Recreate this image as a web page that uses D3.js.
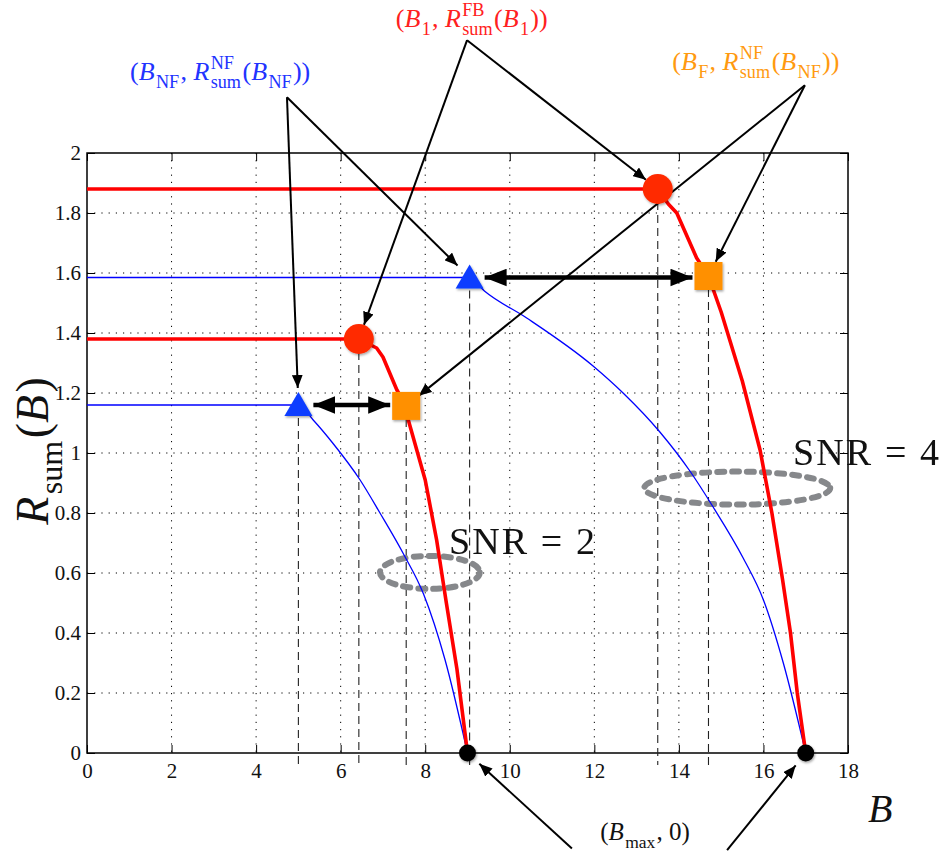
<!DOCTYPE html>
<html>
<head>
    <meta charset="utf-8">
    <script src="https://cdn.jsdelivr.net/npm/d3@7"></script>
    <style>
        body { margin: 0; background: #fff; }
        svg { display: block; }
        svg text { white-space: pre; }
    </style>
</head>
<body>
<svg id="chart" width="943" height="855"></svg>
<script>
    // ---- data ----
    var xTicks = [0, 2, 4, 6, 8, 10, 12, 14, 16, 18];
    var yTicks = [0, 0.2, 0.4, 0.6, 0.8, 1, 1.2, 1.4, 1.6, 1.8, 2];
    var yTickLabels = ["0", "0.2", "0.4", "0.6", "0.8", "1", "1.2", "1.4", "1.6", "1.8", "2"];

    // red: feedback sum-rate, blue: no-feedback sum-rate
    var redSnr2 = [[0, 1.38], [6.43, 1.38], [6.85, 1.35], [7.0, 1.32], [7.33, 1.21], [7.55, 1.157],
        [7.6, 1.11], [8.0, 0.91], [8.27, 0.71], [8.5, 0.5], [8.75, 0.28], [9.0, 0]];
    var blueSnr2 = [[0, 1.16], [5.0, 1.16], [5.35, 1.11], [5.83, 1.03], [6.46, 0.91], [6.93, 0.80],
        [7.48, 0.665], [7.96, 0.53], [8.47, 0.31], [9.0, 0]];
    var redSnr4 = [[0, 1.88], [13.5, 1.88], [13.75, 1.83], [13.95, 1.80], [14.42, 1.65], [14.7, 1.59],
        [15.0, 1.47], [15.5, 1.24], [15.92, 1.01], [16.2, 0.8], [16.45, 0.58], [16.64, 0.4], [16.8, 0.2], [17, 0]];
    var blueSnr4 = [[0, 1.585], [9.05, 1.585], [9.4, 1.54], [10.4, 1.45], [11.97, 1.29], [12.68, 1.2],
        [13.55, 1.07], [14.26, 0.94], [14.81, 0.82], [15.52, 0.65], [16.0, 0.51], [16.47, 0.3], [17, 0]];

    var circlePts = [[6.43, 1.38], [13.5, 1.88]];      // (B1, R_FB)
    var squarePts = [[7.55, 1.157], [14.7, 1.59]];     // (B_F, R_NF)
    var trianglePts = [[5.0, 1.16], [9.05, 1.585]];    // (B_NF, R_NF)
    var bmaxPts = [[9, 0], [17, 0]];

    // SNR groups: ellipse centre, radii (data units), label anchor
    var snrNames = ["SNR = 2", "SNR = 4"];
    var snrEllipse = [[8.11, 0.602, 1.18, 0.055], [15.38, 0.883, 2.2, 0.055]];
    var snrLabelPos = [[8.56, 0.665], [16.7, 0.959]];

    // annotation arrows: apex (data units) -> marker
    var blueApex = [4.73, 2.186], redApex = [8.99, 2.376], orangeApex = [16.98, 2.226];
    var bottomApex = [[11.47, -0.318], [15.14, -0.324]];

    var margin = {top: 153, right: 95, bottom: 102, left: 87},
        width = 943 - margin.left - margin.right,
        height = 855 - margin.top - margin.bottom;

    var serif = "Liberation Serif";

    var svg = d3.select("#chart");
    var defs = svg.append("defs");

    var shadow = defs.append("filter").attr("id", "shadow")
        .attr("x", "-50%").attr("y", "-50%").attr("width", "200%").attr("height", "200%");
    shadow.append("feDropShadow").attr("dx", 1).attr("dy", 1.5)
        .attr("stdDeviation", 1.3).attr("flood-color", "#000").attr("flood-opacity", 0.35);

    defs.append("marker").attr("id", "headThin")
        .attr("viewBox", "0 0 12 10").attr("refX", 12).attr("refY", 5)
        .attr("markerWidth", 13).attr("markerHeight", 11)
        .attr("markerUnits", "userSpaceOnUse").attr("orient", "auto-start-reverse")
        .append("path").attr("d", "M0,0 L12,5 L0,10 Z").attr("fill", "#000");
    defs.append("marker").attr("id", "headThick")
        .attr("viewBox", "0 0 20 16").attr("refX", 20).attr("refY", 8)
        .attr("markerWidth", 22).attr("markerHeight", 18)
        .attr("markerUnits", "userSpaceOnUse").attr("orient", "auto-start-reverse")
        .append("path").attr("d", "M0,0 L20,8 L0,16 Z").attr("fill", "#000");

    var x = d3.scaleLinear().domain([0, 18]).range([0, width]);
    var y = d3.scaleLinear().domain([0, 2]).range([height, 0]);

    var g = svg.append("g").attr("transform", "translate(" + margin.left + "," + margin.top + ")");

    // grid
    g.append("g").selectAll("line").data(xTicks.slice(1, -1)).enter().append("line")
        .attr("x1", d => x(d)).attr("x2", d => x(d)).attr("y1", 0).attr("y2", height)
        .attr("stroke", "#000").attr("stroke-width", 1).attr("stroke-dasharray", "1.2,6");
    g.append("g").selectAll("line").data(yTicks.slice(1, -1)).enter().append("line")
        .attr("y1", d => y(d)).attr("y2", d => y(d)).attr("x1", 0).attr("x2", width)
        .attr("stroke", "#000").attr("stroke-width", 1).attr("stroke-dasharray", "1.2,6");

    // axes (inside ticks all round)
    var xAxis = g.append("g").attr("transform", "translate(0," + height + ")")
        .call(d3.axisBottom(x).tickValues(xTicks).tickSizeInner(-8).tickSizeOuter(0).tickPadding(12));
    var xTop = g.append("g")
        .call(d3.axisTop(x).tickValues(xTicks).tickSizeInner(-8).tickSizeOuter(0).tickFormat(""));
    var yAxis = g.append("g")
        .call(d3.axisLeft(y).tickValues(yTicks).tickSizeInner(-8).tickSizeOuter(0).tickPadding(6)
            .tickFormat((d, i) => yTickLabels[i]));
    var yRight = g.append("g").attr("transform", "translate(" + width + ",0)")
        .call(d3.axisRight(y).tickValues(yTicks).tickSizeInner(-8).tickSizeOuter(0).tickFormat(""));
    [xAxis, xTop, yAxis, yRight].forEach(function (a) {
        a.attr("font-family", serif).attr("font-size", 21);
        a.select(".domain").remove();
        a.selectAll("line").attr("stroke", "#000");
        a.selectAll("text").attr("fill", "#111");
    });
    xAxis.selectAll("text").attr("dy", "0.6em");
    g.append("rect").attr("x", 0).attr("y", 0).attr("width", width).attr("height", height)
        .attr("fill", "none").attr("stroke", "#000").attr("stroke-width", 1.5);

    // dashed guides from markers down past the axis
    var guides = trianglePts.concat(circlePts, squarePts);
    g.append("g").selectAll("line").data(guides).enter().append("line")
        .attr("x1", d => x(d[0])).attr("x2", d => x(d[0]))
        .attr("y1", d => y(d[1])).attr("y2", y(-0.04))
        .attr("stroke", "#222").attr("stroke-width", 1.1).attr("stroke-dasharray", "8,5");

    // ellipses
    g.append("g").selectAll("ellipse").data(snrEllipse).enter().append("ellipse")
        .attr("cx", d => x(d[0])).attr("cy", d => y(d[1]))
        .attr("rx", d => x(d[2]) - x(0)).attr("ry", d => y(0) - y(d[3]))
        .attr("fill", "none").attr("stroke", "#86888b").attr("stroke-width", 6)
        .attr("stroke-dasharray", "7,8").attr("stroke-linecap", "round");

    // curves
    var line = d3.line().x(d => x(d[0])).y(d => y(d[1]));
    var smooth = d3.line().x(d => x(d[0])).y(d => y(d[1])).curve(d3.curveMonotoneX);
    [blueSnr2, blueSnr4].forEach(function (s) {
        g.append("path").datum(s).attr("d", smooth).attr("fill", "none")
            .attr("stroke", "#0000ff").attr("stroke-width", 1.3);
    });
    [redSnr2, redSnr4].forEach(function (s) {
        g.append("path").datum(s).attr("d", line).attr("fill", "none")
            .attr("stroke", "#ff0000").attr("stroke-width", 3.6).attr("stroke-linejoin", "round");
    });

    // double-headed arrows between triangle and square
    trianglePts.forEach(function (t, i) {
        var s = squarePts[i];
        g.append("line")
            .attr("x1", x(t[0]) + 15).attr("y1", y(t[1]))
            .attr("x2", x(s[0]) - 16).attr("y2", y(t[1]))
            .attr("stroke", "#000").attr("stroke-width", 4.5)
            .attr("marker-start", "url(#headThick)").attr("marker-end", "url(#headThick)");
    });

    // thin annotation arrows
    function arrow(from, to, gap) {
        var x1 = x(from[0]), y1 = y(from[1]), x2 = x(to[0]), y2 = y(to[1]);
        var len = Math.hypot(x2 - x1, y2 - y1);
        var ex = x2 - (x2 - x1) / len * gap, ey = y2 - (y2 - y1) / len * gap;
        g.append("line").attr("x1", x1).attr("y1", y1).attr("x2", ex).attr("y2", ey)
            .attr("stroke", "#000").attr("stroke-width", 2).attr("marker-end", "url(#headThin)");
    }
    trianglePts.forEach(p => arrow(blueApex, p, 17));
    circlePts.forEach(p => arrow(redApex, p, 15));
    squarePts.forEach(p => arrow(orangeApex, p, 16));
    bmaxPts.forEach((p, i) => arrow(bottomApex[i], p, 16));

    // markers
    var mk = g.append("g").attr("filter", "url(#shadow)");
    mk.selectAll(".tri").data(trianglePts).enter().append("path")
        .attr("transform", d => "translate(" + x(d[0]) + "," + y(d[1]) + ")")
        .attr("d", "M0,-13 L14,11 L-14,11 Z").attr("fill", "#0a3cff");
    mk.selectAll(".sq").data(squarePts).enter().append("rect")
        .attr("x", d => x(d[0]) - 14).attr("y", d => y(d[1]) - 14)
        .attr("width", 28).attr("height", 28).attr("fill", "#ff9000");
    mk.selectAll(".circ").data(circlePts).enter().append("circle")
        .attr("cx", d => x(d[0])).attr("cy", d => y(d[1])).attr("r", 15).attr("fill", "#ff2a00");
    mk.selectAll(".bm").data(bmaxPts).enter().append("circle")
        .attr("cx", d => x(d[0])).attr("cy", d => y(d[1])).attr("r", 8.5).attr("fill", "#000");

    // math-like text: parts {t, it, sub, sup}
    function mathText(parent, px, py, parts, size, color, anchor) {
        var grp = parent.append("g");
        var cur = 0;
        function put(txt, dx, dy, fs, italic) {
            var el = grp.append("text").attr("x", dx).attr("y", dy)
                .attr("font-family", serif).attr("font-size", fs).attr("fill", color)
                .attr("font-style", italic ? "italic" : "normal").text(txt);
            return el.node().getComputedTextLength();
        }
        parts.forEach(function (p) {
            if (p.sub !== undefined && p.sup !== undefined) {
                var w1 = put(p.sub, cur, size * 0.3, size * 0.7, false);
                var w2 = put(p.sup, cur, -size * 0.42, size * 0.7, false);
                cur += Math.max(w1, w2) + size * 0.06;
            } else if (p.sub !== undefined) {
                cur += put(p.sub, cur, size * 0.3, size * 0.7, false) + size * 0.05;
            } else {
                cur += put(p.t, cur, 0, size, p.it) + (p.it ? size * 0.05 : 0);
            }
        });
        var shift = anchor === "middle" ? -cur / 2 : 0;
        grp.attr("transform", "translate(" + (px + shift) + "," + py + ")");
        return grp;
    }

    var redLabel = [{t: "("}, {t: "B", it: 1}, {sub: "1"}, {t: ", "}, {t: "R", it: 1},
        {sub: "sum", sup: "FB"}, {t: "("}, {t: "B", it: 1}, {sub: "1"}, {t: "))"}];
    var blueLabel = [{t: "("}, {t: "B", it: 1}, {sub: "NF"}, {t: ", "}, {t: "R", it: 1},
        {sub: "sum", sup: "NF"}, {t: "("}, {t: "B", it: 1}, {sub: "NF"}, {t: "))"}];
    var orangeLabel = [{t: "("}, {t: "B", it: 1}, {sub: "F"}, {t: ", "}, {t: "R", it: 1},
        {sub: "sum", sup: "NF"}, {t: "("}, {t: "B", it: 1}, {sub: "NF"}, {t: "))"}];
    var bmaxLabel = [{t: "("}, {t: "B", it: 1}, {sub: "max"}, {t: ", 0)"}];

    mathText(g, x(9.1), y(2.419), redLabel, 26, "#ff2020", "middle");
    mathText(g, x(3.15), y(2.242), blueLabel, 26, "#2233ff", "middle");
    mathText(g, x(15.82), y(2.276), orangeLabel, 26, "#ff9a10", "middle");
    mathText(g, x(13.2), y(-0.291), bmaxLabel, 25, "#111", "middle");

    // SNR labels
    g.append("g").selectAll("text").data(snrNames).enter().append("text")
        .attr("x", (d, i) => x(snrLabelPos[i][0])).attr("y", (d, i) => y(snrLabelPos[i][1]))
        .attr("font-family", serif).attr("font-size", 38).attr("fill", "#111")
        .attr("textLength", 146).attr("lengthAdjust", "spacing")
        .text(d => d);

    // axis titles
    svg.append("text").attr("x", 868).attr("y", 822)
        .attr("font-family", serif).attr("font-size", 40).attr("font-style", "italic")
        .attr("fill", "#111").text("B");
    var yl = mathText(svg, 0, 0, [{t: "R", it: 1}, {sub: "sum"}, {t: "("}, {t: "B", it: 1}, {t: ")"}],
        46, "#111", "middle");
    var ylt = yl.attr("transform");
    yl.attr("transform", "translate(48,451) rotate(-90) " + ylt);
</script>
</body>
</html>
